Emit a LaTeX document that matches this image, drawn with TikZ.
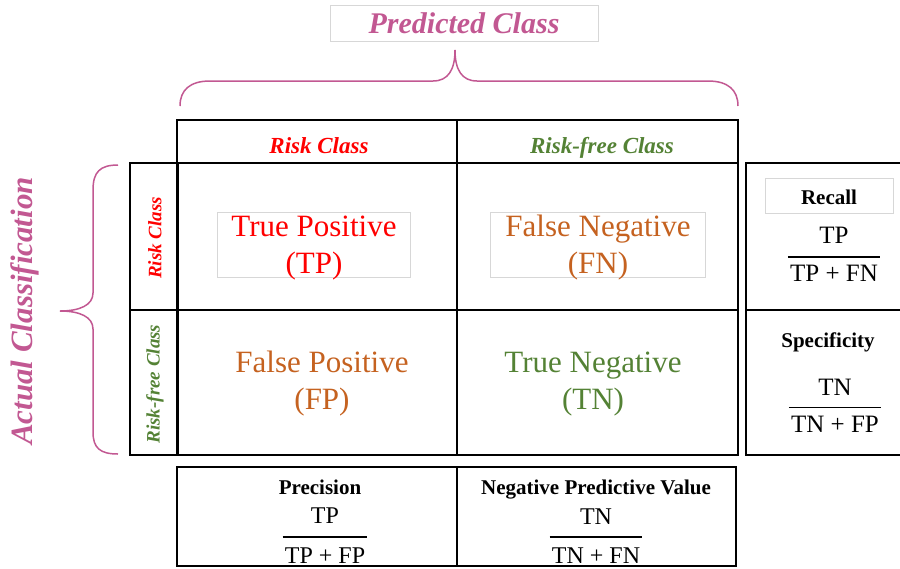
\documentclass[tikz,border=0pt]{standalone}
\usepackage{fontspec}
\setmainfont{Liberation Serif}
\definecolor{plum}{RGB}{194,88,146}
\definecolor{riskred}{RGB}{255,0,0}
\definecolor{rust}{RGB}{197,98,32}
\definecolor{leaf}{RGB}{84,130,53}
\definecolor{faint}{RGB}{215,215,215}
\newcommand{\fs}[2]{\fontsize{#1}{#2}\selectfont}
\tikzset{
	cell/.style={draw,line width=2pt,anchor=north west,inner sep=0pt,outer sep=0pt},
	thinbox/.style={draw=faint,line width=0.8pt,inner sep=0pt,anchor=north west},
	big/.style={font=\fs{31}{37},align=center,inner sep=0pt},
	head/.style={font=\fs{23}{27}\bfseries\itshape,inner sep=0pt,anchor=base},
	side/.style={font=\fs{19}{23}\bfseries\itshape,inner sep=0pt,rotate=90},
	metric/.style={font=\fs{21}{25}\bfseries,inner sep=0pt,anchor=base},
	ratio/.style={font=\fs{25}{29},inner sep=0pt,anchor=base},
	bar/.style={line width=1.2pt},
	curly/.style={draw=plum,line width=1.5pt}
}
\begin{document}
\begin{tikzpicture}[x=1pt,y=-1pt]
	\useasboundingbox (0,0) rectangle (900,568);
	% title and braces
	\node[thinbox,minimum width=268pt,minimum height=36pt] (ttl) at (330,5) {};
	\node[font=\fs{30}{36}\bfseries\itshape,text=plum,anchor=base,inner sep=0pt] (pc) at (464,33) {Predicted Class};
	\draw[curly] (180,106) .. controls (180,90) and (190,81) .. (210,81) -- (433,81)
		.. controls (448,81) and (455,70) .. (455,50)
		.. controls (455,70) and (462,81) .. (477,81) -- (708,81)
		.. controls (728,81) and (738,90) .. (738,106);
	\node[font=\fs{31}{36}\bfseries\itshape,text=plum,rotate=90,inner sep=0pt] (ac) at (25,311) {Actual Classification};
	\draw[curly] (118,165) .. controls (100,165) and (93,172) .. (93,190) -- (93,293)
		.. controls (93,305) and (80,311) .. (60,311)
		.. controls (80,311) and (93,317) .. (93,329) -- (93,432)
		.. controls (93,448) and (100,454) .. (118,454);

	% header row
	\node[cell,minimum width=280pt,minimum height=43pt] (hr) at (177,120) {};
	\node[cell,minimum width=281pt,minimum height=43pt] (hf) at (457,120) {};
	\node[head,text=riskred] (hrt) at (319,153) {Risk Class};
	\node[head,text=leaf] (hft) at (602,153) {Risk-free Class};

	% row labels
	\node[cell,minimum width=47pt,minimum height=147pt] (rr) at (130,163) {};
	\node[cell,minimum width=47pt,minimum height=145pt] (rf) at (130,310) {};
	\node[side,text=riskred] (rrt) at (155,238) {Risk Class};
	\node[side,text=leaf] (rft) at (155,384) {Risk-free Class};

	% matrix
	\node[cell,minimum width=280pt,minimum height=147pt] (tp) at (177,163) {};
	\node[cell,minimum width=281pt,minimum height=147pt] (fn) at (457,163) {};
	\node[cell,minimum width=280pt,minimum height=145pt] (fp) at (177,310) {};
	\node[cell,minimum width=281pt,minimum height=145pt] (tn) at (457,310) {};
	\draw[line width=3pt] (tp.north west) -- (fp.south west);

	\node[thinbox,minimum width=193pt,minimum height=65pt] (tpb) at (217,212) {};
	\node[thinbox,minimum width=215pt,minimum height=65pt] (fnb) at (490,212) {};
	\node[big,text=riskred] (tpt) at (314,248) {True Positive\\(TP)};
	\node[big,text=rust] (fnt) at (598,248) {False Negative\\(FN)};
	\node[big,text=rust] (fpt) at (322,384) {False Positive\\(FP)};
	\node[big,text=leaf] (tnt) at (593,384) {True Negative\\(TN)};

	% right measures
	\node[cell,minimum width=160pt,minimum height=147pt] (rec) at (746,163) {};
	\node[cell,minimum width=160pt,minimum height=145pt] (spe) at (746,310) {};
	\node[thinbox,minimum width=128pt,minimum height=35pt] (recb) at (765,178) {};
	\node[metric] (rect) at (829,204) {Recall};
	\node[ratio] (recn) at (834,243) {TP};
	\node[ratio] (recd) at (834,281) {TP + FN};
	\draw[bar] ([xshift=-2pt,yshift=7.5pt]recd.north west) -- ([xshift=2pt,yshift=7.5pt]recd.north east);
	\node[metric] (spet) at (828,347) {Specificity};
	\node[ratio] (spen) at (835,395) {TN};
	\node[ratio] (sped) at (835,432) {TN + FP};
	\draw[bar] ([xshift=-2pt,yshift=8pt]sped.north west) -- ([xshift=2pt,yshift=8pt]sped.north east);

	% bottom measures
	\node[cell,minimum width=280pt,minimum height=99pt] (pre) at (177,467) {};
	\node[cell,minimum width=279pt,minimum height=99pt] (npv) at (457,467) {};
	\node[metric] (pret) at (320,494) {Precision};
	\node[ratio,font=\fs{24}{28}] (pren) at (325,523) {TP};
	\node[ratio,font=\fs{24}{28}] (pred) at (325,563) {TP + FP};
	\draw[bar] ([xshift=-2pt,yshift=10pt]pred.north west) -- ([xshift=2pt,yshift=10pt]pred.north east);
	\node[metric] (npvt) at (596,494) {Negative Predictive Value};
	\node[ratio,font=\fs{24}{28}] (npvn) at (596,524) {TN};
	\node[ratio,font=\fs{24}{28}] (npvd) at (596,563) {TN + FN};
	\draw[bar] ([xshift=-2pt,yshift=10pt]npvd.north west) -- ([xshift=2pt,yshift=10pt]npvd.north east);
\end{tikzpicture}
\end{document}
